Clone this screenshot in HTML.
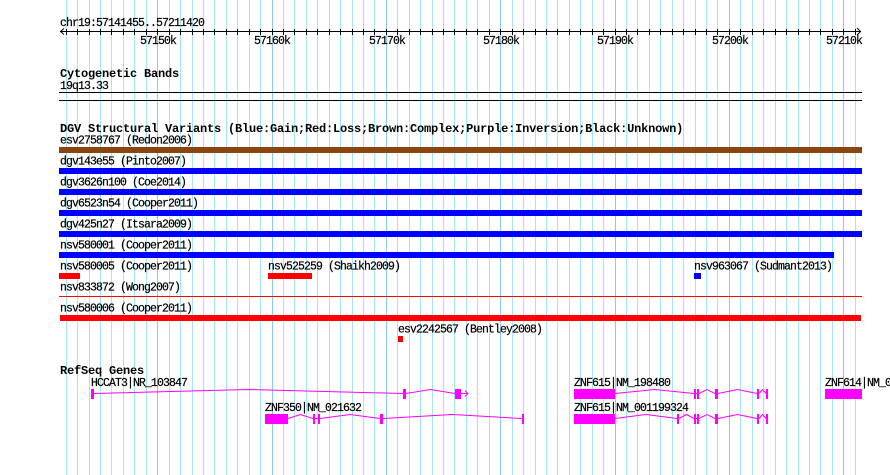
<!DOCTYPE html>
<html>
<head>
<meta charset="utf-8">
<style>
  html, body { margin: 0; padding: 0; background: #ffffff; }
  svg { display: block; }
  .t { font-family: "Liberation Mono", "DejaVu Sans Mono", monospace; font-size: 11.5px; letter-spacing: -0.9px; fill: #000; stroke: #000; stroke-width: 0.2px; }
  .b { font-family: "Liberation Mono", "DejaVu Sans Mono", monospace; font-size: 12px; font-weight: bold; letter-spacing: -0.2px; fill: #000; }
</style>
</head>
<body>
<svg width="890" height="475" viewBox="0 0 890 475" xmlns="http://www.w3.org/2000/svg">
  <rect x="0" y="0" width="890" height="475" fill="#ffffff"/>

  <!-- grid: minor -->
  <path fill="none" stroke="#a6e6ee" stroke-width="1" d="
M66.5 0V475M77.5 0V475M89.5 0V475M100.5 0V475M111.5 0V475M123.5 0V475M134.5 0V475M146.5 0V475
M169.5 0V475M180.5 0V475M192.5 0V475M203.5 0V475M214.5 0V475M226.5 0V475M237.5 0V475M249.5 0V475M260.5 0V475
M283.5 0V475M294.5 0V475M306.5 0V475M317.5 0V475M329.5 0V475M340.5 0V475M352.5 0V475M363.5 0V475M374.5 0V475
M397.5 0V475M409.5 0V475M420.5 0V475M432.5 0V475M443.5 0V475M454.5 0V475M466.5 0V475M477.5 0V475M489.5 0V475
M512.5 0V475M523.5 0V475M535.5 0V475M546.5 0V475M557.5 0V475M569.5 0V475M580.5 0V475M592.5 0V475M603.5 0V475
M626.5 0V475M637.5 0V475M649.5 0V475M660.5 0V475M672.5 0V475M683.5 0V475M695.5 0V475M706.5 0V475M717.5 0V475
M740.5 0V475M752.5 0V475M763.5 0V475M775.5 0V475M786.5 0V475M798.5 0V475M809.5 0V475M820.5 0V475M832.5 0V475
M855.5 0V475"/>
  <!-- grid: major -->
  <path fill="none" stroke="#8ccaea" stroke-width="1" d="M157.5 0V475M272.5 0V475M386.5 0V475M500.5 0V475M615.5 0V475M729.5 0V475M843.5 0V475"/>

  <!-- ruler -->
  <text class="t" x="60" y="26">chr19:57141455..57211420</text>
  <path fill="none" stroke="#000" stroke-width="1" d="M60 31.5H861 M64 28.5L60.5 31.5L64 34.5 M857 28L860.5 31.5L857 35"/>
  <path fill="none" stroke="#000" stroke-width="1" d="
M66.5 29V35M77.5 29V35M89.5 29V35M100.5 29V35M111.5 29V35M123.5 29V35M134.5 29V35M146.5 29V35M157.5 29V35
M169.5 29V35M180.5 29V35M192.5 29V35M203.5 29V35M214.5 29V35M226.5 29V35M237.5 29V35M249.5 29V35M260.5 29V35M272.5 29V35
M283.5 29V35M294.5 29V35M306.5 29V35M317.5 29V35M329.5 29V35M340.5 29V35M352.5 29V35M363.5 29V35M374.5 29V35M386.5 29V35
M397.5 29V35M409.5 29V35M420.5 29V35M432.5 29V35M443.5 29V35M454.5 29V35M466.5 29V35M477.5 29V35M489.5 29V35M500.5 29V35
M512.5 29V35M523.5 29V35M535.5 29V35M546.5 29V35M557.5 29V35M569.5 29V35M580.5 29V35M592.5 29V35M603.5 29V35M615.5 29V35
M626.5 29V35M637.5 29V35M649.5 29V35M660.5 29V35M672.5 29V35M683.5 29V35M695.5 29V35M706.5 29V35M717.5 29V35M729.5 29V35
M740.5 29V35M752.5 29V35M763.5 29V35M775.5 29V35M786.5 29V35M798.5 29V35M809.5 29V35M820.5 29V35M832.5 29V35M843.5 29V35
M855.5 29V35"/>
  <g text-anchor="middle">
    <text class="t" x="158" y="44">57150k</text>
    <text class="t" x="272" y="44">57160k</text>
    <text class="t" x="387" y="44">57170k</text>
    <text class="t" x="501" y="44">57180k</text>
    <text class="t" x="615" y="44">57190k</text>
    <text class="t" x="730" y="44">57200k</text>
    <text class="t" x="844" y="44">57210k</text>
  </g>

  <!-- Cytogenetic bands -->
  <text class="b" x="60" y="77">Cytogenetic Bands</text>
  <text class="t" x="60" y="89">19q13.33</text>
  <path fill="none" stroke="#000" stroke-width="1" d="M59 92.5H862 M59 100.5H862"/>

  <!-- DGV -->
  <text class="b" x="60" y="132">DGV Structural Variants (Blue:Gain;Red:Loss;Brown:Complex;Purple:Inversion;Black:Unknown)</text>

  <text class="t" x="60" y="143.5">esv2758767 (Redon2006)</text>
  <rect x="59" y="147" width="803" height="6" fill="#8b4513"/>

  <text class="t" x="60" y="164.5">dgv143e55 (Pinto2007)</text>
  <rect x="59" y="168" width="803" height="6" fill="#0000ff"/>

  <text class="t" x="60" y="185.5">dgv3626n100 (Coe2014)</text>
  <rect x="59" y="189" width="803" height="6" fill="#0000ff"/>

  <text class="t" x="60" y="206.5">dgv6523n54 (Cooper2011)</text>
  <rect x="59" y="210" width="803" height="6" fill="#0000ff"/>

  <text class="t" x="60" y="227.5">dgv425n27 (Itsara2009)</text>
  <rect x="59" y="231" width="803" height="6" fill="#0000ff"/>

  <text class="t" x="60" y="248.5">nsv580001 (Cooper2011)</text>
  <rect x="59" y="252" width="775" height="6" fill="#0000ff"/>

  <text class="t" x="60" y="269.5">nsv580005 (Cooper2011)</text>
  <rect x="59" y="273" width="21" height="6" fill="#ff0000"/>
  <text class="t" x="268" y="269.5">nsv525259 (Shaikh2009)</text>
  <rect x="268" y="273" width="44" height="6" fill="#ff0000"/>
  <text class="t" x="694" y="269.5">nsv963067 (Sudmant2013)</text>
  <rect x="694" y="273" width="7" height="6" fill="#0000ff"/>

  <text class="t" x="60" y="290.5">nsv833872 (Wong2007)</text>
  <rect x="59" y="296" width="803" height="1" fill="#ff0000"/>

  <text class="t" x="60" y="311.5">nsv580006 (Cooper2011)</text>
  <rect x="60" y="315" width="801" height="6" fill="#ff0000"/>

  <text class="t" x="398" y="332.5">esv2242567 (Bentley2008)</text>
  <rect x="398" y="336" width="5" height="6" fill="#ff0000"/>

  <!-- RefSeq genes -->
  <text class="b" x="60" y="374">RefSeq Genes</text>

  <!-- HCCAT3 -->
  <text class="t" x="91" y="386">HCCAT3|NR_103847</text>
  <g fill="#ff00ff">
    <rect x="91" y="389" width="3" height="10"/>
    <rect x="403" y="389" width="3" height="10"/>
    <rect x="455" y="389" width="6" height="10"/>
  </g>
  <path fill="none" stroke="#ff00ff" stroke-width="1" d="M94 393.5L248 389.5L403 393.5 M406 393.5L430.5 389.5L455 393.5 M461 393.5H468 M465 390.5L468 393.5L465 396.5"/>

  <!-- ZNF350 -->
  <text class="t" x="265" y="411">ZNF350|NM_021632</text>
  <g fill="#ff00ff">
    <rect x="265" y="414" width="23" height="10"/>
    <rect x="313" y="414" width="2" height="10"/>
    <rect x="318" y="414" width="2" height="10"/>
    <rect x="380" y="414" width="3" height="10"/>
    <rect x="522" y="414" width="2" height="10"/>
  </g>
  <path fill="none" stroke="#ff00ff" stroke-width="1" d="M288 418.5L300.5 414.5L313 418.5 M315 418.5H318 M320 418.5L350 414.5L380 418.5 M383 418.5L452.5 414.5L522 418.5"/>

  <!-- ZNF615 NM_198480 -->
  <text class="t" x="574" y="386">ZNF615|NM_198480</text>
  <g fill="#ff00ff">
    <rect x="574" y="389" width="41" height="10"/>
    <rect x="694" y="389" width="2" height="10"/>
    <rect x="697" y="389" width="2" height="10"/>
    <rect x="715" y="389" width="3" height="10"/>
    <rect x="757" y="389" width="2" height="10"/>
    <rect x="766" y="389" width="2" height="10"/>
  </g>
  <path fill="none" stroke="#ff00ff" stroke-width="1" d="M615 393.5L654.5 389.5L694 393.5 M696 393.5H697 M699 393.5L707 389.5L715 393.5 M718 393.5L737.5 389.5L757 393.5 M759 393.5L762.5 389.5L766 393.5"/>

  <!-- ZNF615 NM_001199324 -->
  <text class="t" x="574" y="411">ZNF615|NM_001199324</text>
  <g fill="#ff00ff">
    <rect x="574" y="414" width="41" height="10"/>
    <rect x="677" y="414" width="2" height="10"/>
    <rect x="694" y="414" width="2" height="10"/>
    <rect x="697" y="414" width="2" height="10"/>
    <rect x="715" y="414" width="3" height="10"/>
    <rect x="757" y="414" width="2" height="10"/>
    <rect x="766" y="414" width="2" height="10"/>
  </g>
  <path fill="none" stroke="#ff00ff" stroke-width="1" d="M615 418.5L646 414.5L677 418.5 M679 418.5L686.5 414.5L694 418.5 M696 418.5H697 M699 418.5L707 414.5L715 418.5 M718 418.5L737.5 414.5L757 418.5 M759 418.5L762.5 414.5L766 418.5"/>

  <!-- ZNF614 -->
  <text class="t" x="825" y="386">ZNF614|NM_003441</text>
  <rect x="825" y="389" width="37" height="10" fill="#ff00ff"/>
</svg>
</body>
</html>
